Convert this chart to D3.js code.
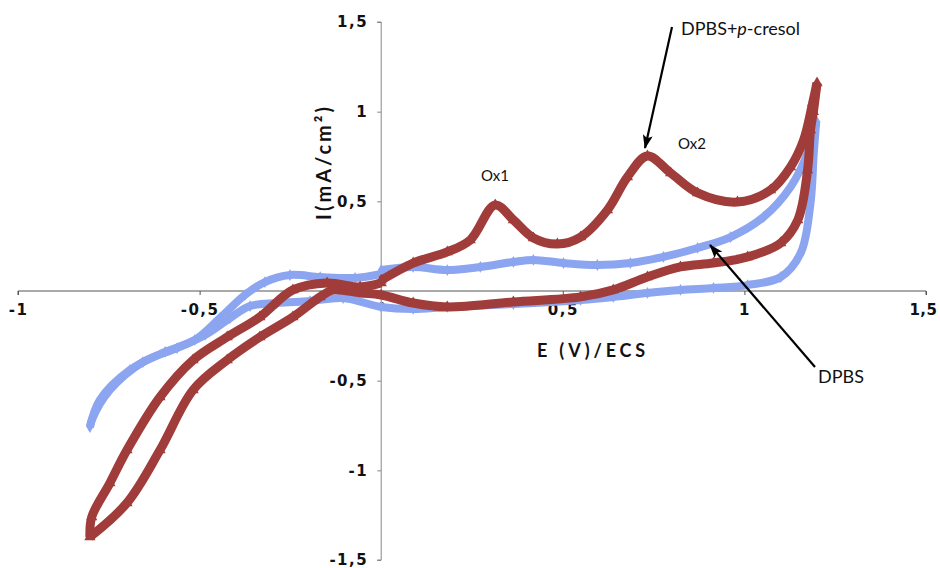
<!DOCTYPE html>
<html>
<head>
<meta charset="utf-8">
<script src="https://cdn.jsdelivr.net/npm/d3@7"></script>
<style>
  body { margin: 0; background: #fff; }
  .tick text { font-family: "DejaVu Sans", Verdana, sans-serif; font-weight: bold; font-size: 15px; fill: #111; letter-spacing: 1.5px; }
  .tick text.zero { font-weight: normal; font-size: 11px; fill: #334; letter-spacing: 0; }
  .note { font-family: Lato, "Open Sans", sans-serif; fill: #111; }
</style>
</head>
<body>
<svg id="chart" width="940" height="568"></svg>
<script>
// DPBS + p-cresol (red, triangles): forward, reverse, cathodic, return
var cresolE = [0, 0.088, 0.182, 0.245, 0.314, 0.364, 0.419, 0.485, 0.549, 0.623, 0.678, 0.733, 0.797, 0.871, 0.981, 1.072, 1.127, 1.163, 1.188, 1.2,
  1.19, 1.182, 1.174, 1.147, 1.1, 1.009, 0.915, 0.824, 0.733, 0.639, 0.549, 0.364, 0.182, 0.088, 0,
  -0.058, -0.132, -0.168, -0.243, -0.334, -0.424, -0.518, -0.609, -0.7, -0.802,
  -0.797, -0.747, -0.7, -0.609, -0.518, -0.424, -0.334, -0.243, -0.149, -0.058, 0];
var cresolI = [0.06, 0.156, 0.218, 0.284, 0.48, 0.396, 0.296, 0.262, 0.301, 0.452, 0.636, 0.753, 0.658, 0.547, 0.496, 0.563, 0.692, 0.842, 1.05, 1.16,
  1.0, 0.898, 0.675, 0.396, 0.268, 0.19, 0.156, 0.134, 0.078, 0.006, -0.033, -0.061, -0.089, -0.067, -0.022,
  -0.011, 0.006, -0.033, -0.145, -0.257, -0.385, -0.552, -0.887, -1.182, -1.372,
  -1.26, -1.071, -0.887, -0.591, -0.385, -0.257, -0.145, 0.006, 0.045, 0.022, 0.045];

// DPBS (blue)
var dpbsE = [0, 0.088, 0.182, 0.273, 0.364, 0.419, 0.502, 0.595, 0.686, 0.777, 0.871, 0.962, 1.053, 1.127, 1.174, 1.198,
  1.191, 1.182, 1.155, 1.1, 1.009, 0.915, 0.824, 0.733, 0.639, 0.549, 0.364, 0.182, 0.088, 0,
  -0.105, -0.196, -0.287, -0.361, -0.416, -0.485, -0.562, -0.656, -0.747, -0.797,
  -0.802, -0.775, -0.692, -0.595, -0.513, -0.444, -0.375, -0.32, -0.251, -0.168, -0.072, 0];
var dpbsI = [0.117, 0.134, 0.117, 0.134, 0.162, 0.173, 0.156, 0.145, 0.156, 0.19, 0.24, 0.301, 0.413, 0.58, 0.77, 0.95,
  0.77, 0.49, 0.212, 0.078, 0.033, 0.017, 0.006, -0.011, -0.033, -0.05, -0.073, -0.089, -0.1, -0.089,
  -0.039, -0.056, -0.067, -0.084, -0.151, -0.245, -0.318, -0.396, -0.552, -0.72,
  -0.759, -0.608, -0.44, -0.34, -0.273, -0.151, -0.022, 0.05, 0.089, 0.078, 0.073, 0.095];

var xTicks = [-1, -0.5, 0, 0.5, 1, 1.5];
var yTicks = [-1.5, -1, -0.5, 0, 0.5, 1, 1.5];

var svg = d3.select("#chart");

var x = d3.scaleLinear().domain([-1, 1.5]).range([18, 926]);
var y = d3.scaleLinear().domain([-1.5, 1.5]).range([560, 22]);

var fmt = d => String(d).replace(".", ",");

// axes
var gx = svg.append("g")
  .attr("transform", "translate(0," + y(0) + ")")
  .call(d3.axisBottom(x).tickValues(xTicks).tickSize(4).tickPadding(9).tickFormat(fmt));
gx.select(".domain").attr("stroke", "#555").attr("d", "M" + x(-1) + ",4V0H" + x(1.5) + "V4");
gx.selectAll(".tick line").attr("stroke", "#555");

var gy = svg.append("g")
  .attr("transform", "translate(" + x(0) + ",0)")
  .call(d3.axisLeft(y).tickValues(yTicks).tickSize(4).tickPadding(9).tickFormat(fmt));
gy.select(".domain").attr("stroke", "#888").attr("d", "M-4," + y(1.5) + "H0V" + y(-1.5) + "H-4");
gy.selectAll(".tick line").attr("stroke", "#888");

gx.selectAll(".tick text").filter(d => d === 0).attr("class", "zero").attr("y", 11);
gy.selectAll(".tick text").filter(d => d === 0).attr("class", "zero").attr("x", -9).attr("dy", "0.35em");
// last x label sits against the right edge
gx.selectAll(".tick text").filter(d => d === 1.5)
  .attr("text-anchor", "end").attr("x", 11).style("letter-spacing", "0.5px");

// split a cyclic sweep into its anodic / cathodic runs so the turns stay sharp
function sweeps(E, I) {
  var runs = [], cur = [[E[0], I[0]]], dir = 0;
  for (var i = 1; i < E.length; i++) {
    var d = Math.sign(E[i] - E[i - 1]);
    if (dir && d && d !== dir) { runs.push(cur); cur = [[E[i - 1], I[i - 1]]]; }
    if (d) dir = d;
    cur.push([E[i], I[i]]);
  }
  runs.push(cur);
  return runs;
}

var line = d3.line()
  .x(d => x(d[0]))
  .y(d => y(d[1]))
  .curve(d3.curveCatmullRom.alpha(0.5));

function drawSeries(E, I, color, width, symbol, size) {
  var g = svg.append("g");
  g.selectAll("path.run")
    .data(sweeps(E, I))
    .join("path")
    .attr("class", "run")
    .attr("d", line)
    .attr("fill", "none")
    .attr("stroke", color)
    .attr("stroke-width", width)
    .attr("stroke-linejoin", "round");
  g.selectAll("path.pt")
    .data(E.map((e, i) => [e, I[i]]))
    .join("path")
    .attr("class", "pt")
    .attr("transform", d => "translate(" + x(d[0]) + "," + y(d[1]) + ")")
    .attr("d", d3.symbol(symbol, size))
    .attr("fill", color);
}

drawSeries(dpbsE, dpbsI, "#8ba5f0", 8, d3.symbolDiamond, 40);
drawSeries(cresolE, cresolI, "#a03c3a", 9, d3.symbolTriangle, 55);

// axis titles
svg.append("text")
  .attr("class", "note")
  .attr("transform", "translate(331,162) rotate(-90)")
  .attr("text-anchor", "middle")
  .style("font-size", "20px")
  .style("font-weight", "bold")
  .style("letter-spacing", "3px")
  .text("I(mA/cm²)");

svg.append("text")
  .attr("class", "note")
  .attr("x", 593).attr("y", 357)
  .attr("text-anchor", "middle")
  .style("font-size", "18px")
  .style("font-weight", "bold")
  .style("letter-spacing", "3.8px")
  .text("E (V)/ECS");

// annotations
svg.append("defs").append("marker")
  .attr("id", "head")
  .attr("viewBox", "0 0 14 10")
  .attr("refX", 13).attr("refY", 5)
  .attr("markerWidth", 14).attr("markerHeight", 10)
  .attr("markerUnits", "userSpaceOnUse")
  .attr("orient", "auto")
  .append("path")
  .attr("d", "M0,0L14,5L0,10L3,5Z")
  .attr("fill", "#000");

var arrows = [[672, 27, 645, 148], [815, 367, 710, 245]];
svg.append("g").selectAll("line")
  .data(arrows)
  .join("line")
  .attr("x1", d => d[0]).attr("y1", d => d[1])
  .attr("x2", d => d[2]).attr("y2", d => d[3])
  .attr("stroke", "#000")
  .attr("stroke-width", 2.2)
  .attr("marker-end", "url(#head)");

svg.append("text").attr("class", "note").attr("x", 481).attr("y", 181).style("font-size", "15px").text("Ox1");
svg.append("text").attr("class", "note").attr("x", 678).attr("y", 149).style("font-size", "15px").text("Ox2");

var t = svg.append("text").attr("class", "note").attr("x", 681).attr("y", 35).style("font-size", "18px");
t.append("tspan").text("DPBS+");
t.append("tspan").style("font-style", "italic").text("p");
t.append("tspan").text("-cresol");

svg.append("text").attr("class", "note").attr("x", 818).attr("y", 383).style("font-size", "18px").text("DPBS");
</script>
</body>
</html>
